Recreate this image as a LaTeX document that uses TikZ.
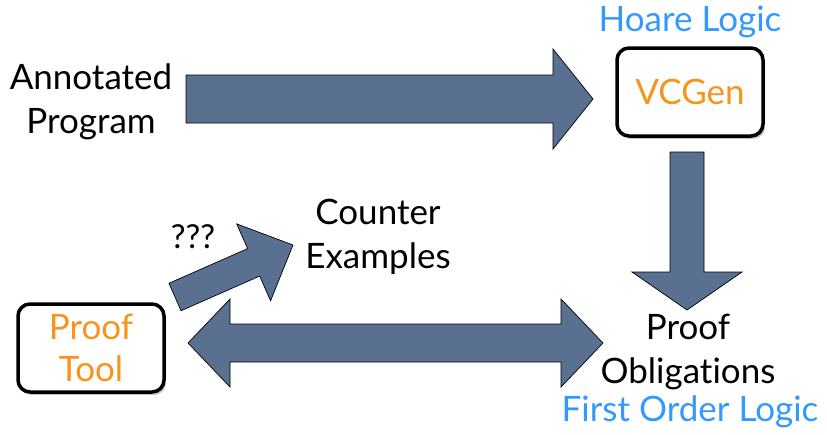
\documentclass[tikz,border=0pt]{standalone}
\usepackage{fontspec}
\setmainfont{Lato}[Ligatures=NoCommon]
\usetikzlibrary{calc,shadows}

\definecolor{slate}{RGB}{90,112,145}
\definecolor{toolorange}{RGB}{247,148,30}
\definecolor{logicblue}{RGB}{51,153,255}

% fat block arrow: from, to, half shaft, half head, head length
\newcommand{\fatarrow}[5]{%
  \coordinate (fa-hb) at ($(#2)!#5!(#1)$);
  \filldraw[fill=slate,draw=black,line width=0.7pt,line join=miter]
    ($(#1)!#3!90:(#2)$) -- ($(fa-hb)!#3!-90:(#1)$) -- ($(fa-hb)!#4!-90:(#1)$) -- (#2)
    -- ($(fa-hb)!#4!90:(#1)$) -- ($(fa-hb)!#3!90:(#1)$) -- ($(#1)!#3!-90:(#2)$) -- cycle;
}
% same, with a head at both ends
\newcommand{\fatdarrow}[5]{%
  \coordinate (fa-ha) at ($(#1)!#5!(#2)$);
  \coordinate (fa-hb) at ($(#2)!#5!(#1)$);
  \filldraw[fill=slate,draw=black,line width=0.7pt,line join=miter]
    (#1) -- ($(fa-ha)!#4!90:(#2)$) -- ($(fa-ha)!#3!90:(#2)$)
    -- ($(fa-hb)!#3!-90:(#1)$) -- ($(fa-hb)!#4!-90:(#1)$) -- (#2)
    -- ($(fa-hb)!#4!90:(#1)$) -- ($(fa-hb)!#3!90:(#1)$)
    -- ($(fa-ha)!#3!-90:(#2)$) -- ($(fa-ha)!#4!-90:(#2)$) -- cycle;
}

\tikzset{
  label text/.style={font=\fontsize{35}{44}\selectfont, align=center, inner sep=0pt},
  logic text/.style={font=\fontsize{35}{44}\selectfont, text=logicblue, inner sep=0pt},
  toolbox/.style={draw=black, line width=3.5pt, rounded corners=12pt, fill=white,
    minimum width=146pt, minimum height=88pt, align=center, text=toolorange,
    font=\fontsize{35}{42}\selectfont,
    drop shadow={shadow xshift=2pt, shadow yshift=-3pt, opacity=0.45}},
}

\begin{document}
\begin{tikzpicture}[x=1pt,y=-1pt]
  \useasboundingbox (0,0) rectangle (827,434);

  \node[label text] (prog) at (91,102) {Annotated\\Program};
  \node[toolbox] (vcgen) at (690,92) {VCGen};
  \node[logic text] (hoare) at (690,22) {Hoare Logic};
  \node[label text] (oblig) at (688,352) {Proof\\Obligations};
  \node[logic text] (fol) at (690,412) {First Order Logic};
  \node[toolbox] (tool) at (91,348) {Proof\\Tool};
  \node[label text] (counter) at (378,237) {Counter\\Examples};
  \node[label text, font=\fontsize{33}{36}\selectfont] (qqq) at (193,237) {???};

  % arrow ends
  \coordinate (a1) at (186,99);
  \coordinate (a2) at (593,99);
  \coordinate (b1) at (687,152);
  \coordinate (b2) at (687,310);
  \coordinate (c1) at (188,343);
  \coordinate (c2) at (603,343);
  \coordinate (d1) at (175,297);
  \coordinate (d2) at (293,245);

  \fatarrow{a1}{a2}{24pt}{50pt}{40pt}
  \fatarrow{b1}{b2}{17pt}{55pt}{38pt}
  \fatdarrow{c1}{c2}{19pt}{44pt}{42pt}
  \fatarrow{d1}{d2}{15pt}{42pt}{43pt}
\end{tikzpicture}
\end{document}
